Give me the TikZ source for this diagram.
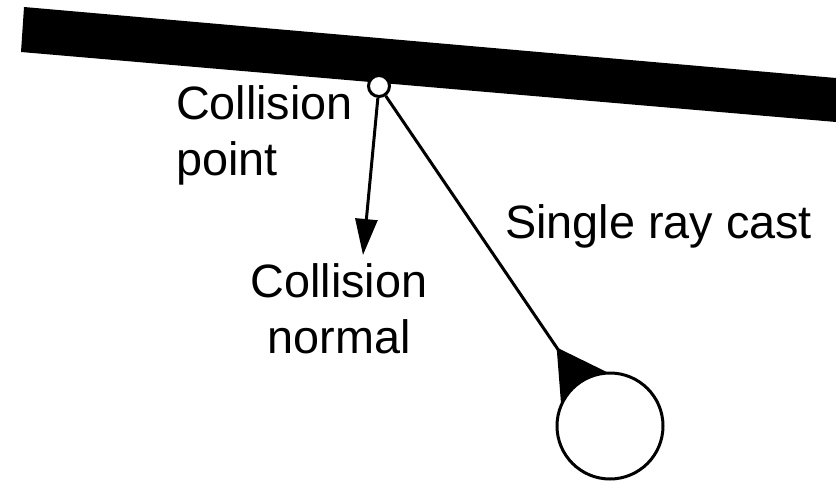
\documentclass[tikz,border=0pt]{standalone}
\usepackage{fontspec}
\setmainfont{Liberation Sans}
\usetikzlibrary{arrows.meta,backgrounds}

\begin{document}
\begin{tikzpicture}[x=0.5pt,y=-0.5pt,>=Triangle,line width=1.5pt, every node/.style={font=\fontsize{23.4}{28}\selectfont}]
\tikzstyle{label}=[inner sep=0, outer sep=0]
\tikzstyle{dot}=[circle, draw, fill=white, inner sep=0, line width=1.5pt]
\tikzstyle{ray}=[line width=1.5pt]
\useasboundingbox (0,0) rectangle (836,482);
% wall
\fill (24,7) -- (836,78) -- (836,122) -- (21,52) -- cycle;
\node[dot, minimum size=10.5pt] (cp) at (379,86) {};
\node[dot, minimum size=53pt] (ball) at (610,426) {};
\coordinate (nrm) at (363,255);
\node[label, anchor=north west, align=left] (cplabel) at (176,86) {Collision\\point};
\node[label, anchor=north, align=center] (nrmlabel) at (339,264) {Collision\\normal};
\node[label, anchor=base west] (raylabel) at (505,238) {Single ray cast};
\begin{scope}[on background layer]
\draw[ray, -{Triangle[length=18pt, width=11pt]}] (cp) -- (nrm);
\draw[ray, {Triangle[reversed, length=24pt, width=27pt]}-, shorten <=23.5pt] (ball.center) -- (cp);
\end{scope}
\end{tikzpicture}
\end{document}
